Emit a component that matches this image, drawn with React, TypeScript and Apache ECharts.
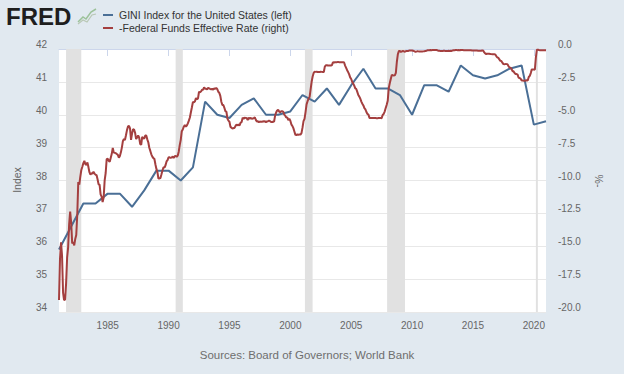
import React, { useEffect, useRef } from "react";
import * as echarts from "echarts";

// GINI Index for the United States (annual, Jan 1 of each year)
const giniYears = [
  1981, 1982, 1983, 1984, 1985, 1986, 1987, 1988, 1989, 1990,
  1991, 1992, 1993, 1994, 1995, 1996, 1997, 1998, 1999, 2000,
  2001, 2002, 2003, 2004, 2005, 2006, 2007, 2008, 2009, 2010,
  2011, 2012, 2013, 2014, 2015, 2016, 2017, 2018, 2019, 2020, 2021,
];
const giniValues = [
  35.9, 36.6, 37.3, 37.3, 37.6, 37.6, 37.2, 37.7, 38.3, 38.3,
  38.0, 38.4, 40.4, 40.0, 39.9, 40.3, 40.5, 40.0, 40.0, 40.1,
  40.6, 40.4, 40.8, 40.3, 40.9, 41.4, 40.8, 40.8, 40.6, 40.0,
  40.9, 40.9, 40.7, 41.5, 41.2, 41.1, 41.2, 41.4, 41.5, 39.7, 39.8,
];

// Federal Funds Effective Rate, monthly, starting January of the first year (percent)
const fedFundsStartYear = 1981;
const fedFunds1980s = [
  19.08, 15.93, 14.7, 15.72, 18.52, 19.1, 19.04, 17.82, 15.87, 15.08, 13.31, 12.37,
  13.22, 14.78, 14.68, 14.94, 14.45, 14.15, 12.59, 10.12, 10.31, 9.71, 9.2, 8.95,
  8.68, 8.51, 8.77, 8.8, 8.63, 8.98, 9.37, 9.56, 9.45, 9.48, 9.34, 9.47,
  9.56, 9.59, 9.91, 10.29, 10.32, 11.06, 11.23, 11.64, 11.3, 9.99, 9.43, 8.38,
  8.35, 8.5, 8.58, 8.27, 7.97, 7.53, 7.88, 7.9, 7.92, 7.99, 8.05, 8.27,
  8.14, 7.86, 7.48, 6.99, 6.85, 6.92, 6.56, 6.17, 5.89, 5.85, 6.04, 6.91,
  6.43, 6.1, 6.13, 6.37, 6.85, 6.73, 6.58, 6.73, 7.22, 7.29, 6.69, 6.77,
  6.83, 6.58, 6.58, 6.87, 7.09, 7.51, 7.75, 8.01, 8.19, 8.3, 8.35, 8.76,
  9.12, 9.36, 9.85, 9.84, 9.81, 9.53, 9.24, 8.99, 9.02, 8.84, 8.55, 8.45,
];
const fedFunds1990s = [
  8.23, 8.24, 8.28, 8.26, 8.18, 8.29, 8.15, 8.13, 8.2, 8.11, 7.81, 7.31,
  6.91, 6.25, 6.12, 5.91, 5.78, 5.9, 5.82, 5.66, 5.45, 5.21, 4.81, 4.43,
  4.03, 4.06, 3.98, 3.73, 3.82, 3.76, 3.25, 3.3, 3.22, 3.1, 3.09, 2.92,
  3.02, 3.03, 3.07, 2.96, 3.0, 3.04, 3.06, 3.03, 3.09, 2.99, 3.02, 2.96,
  3.05, 3.25, 3.34, 3.56, 4.01, 4.25, 4.26, 4.47, 4.73, 4.76, 5.29, 5.45,
  5.53, 5.92, 5.98, 6.05, 6.01, 6.0, 5.85, 5.74, 5.8, 5.76, 5.8, 5.6,
  5.56, 5.22, 5.31, 5.22, 5.24, 5.27, 5.4, 5.22, 5.3, 5.24, 5.31, 5.29,
  5.25, 5.19, 5.39, 5.51, 5.5, 5.56, 5.52, 5.54, 5.54, 5.5, 5.52, 5.5,
  5.56, 5.51, 5.49, 5.45, 5.49, 5.56, 5.54, 5.55, 5.51, 5.07, 4.83, 4.68,
  4.63, 4.76, 4.81, 4.74, 4.74, 4.76, 4.99, 5.07, 5.22, 5.2, 5.42, 5.3,
];
const fedFunds2000s = [
  5.45, 5.73, 5.85, 6.02, 6.27, 6.53, 6.54, 6.5, 6.52, 6.51, 6.51, 6.4,
  5.98, 5.49, 5.31, 4.8, 4.21, 3.97, 3.77, 3.65, 3.07, 2.49, 2.09, 1.82,
  1.73, 1.74, 1.73, 1.75, 1.75, 1.75, 1.73, 1.74, 1.75, 1.75, 1.34, 1.24,
  1.24, 1.26, 1.25, 1.26, 1.26, 1.22, 1.01, 1.03, 1.01, 1.01, 1.0, 0.98,
  1.0, 1.01, 1.0, 1.0, 1.0, 1.03, 1.26, 1.43, 1.61, 1.76, 1.93, 2.16,
  2.28, 2.5, 2.63, 2.79, 3.0, 3.04, 3.26, 3.5, 3.62, 3.78, 4.0, 4.16,
  4.29, 4.49, 4.59, 4.79, 4.94, 4.99, 5.24, 5.25, 5.25, 5.25, 5.25, 5.24,
  5.25, 5.26, 5.26, 5.25, 5.25, 5.25, 5.26, 5.02, 4.94, 4.76, 4.49, 4.24,
  3.94, 2.98, 2.61, 2.28, 1.98, 2.0, 2.01, 2.0, 1.81, 0.97, 0.39, 0.16,
  0.15, 0.22, 0.18, 0.15, 0.18, 0.21, 0.16, 0.16, 0.15, 0.12, 0.12, 0.12,
];
const fedFunds2010s = [
  0.11, 0.13, 0.16, 0.2, 0.2, 0.18, 0.18, 0.19, 0.19, 0.19, 0.19, 0.18,
  0.17, 0.16, 0.14, 0.1, 0.09, 0.09, 0.07, 0.1, 0.08, 0.07, 0.08, 0.07,
  0.08, 0.1, 0.13, 0.14, 0.16, 0.16, 0.16, 0.13, 0.14, 0.16, 0.16, 0.16,
  0.14, 0.15, 0.14, 0.15, 0.11, 0.09, 0.09, 0.08, 0.08, 0.09, 0.08, 0.09,
  0.07, 0.07, 0.08, 0.09, 0.09, 0.1, 0.09, 0.09, 0.09, 0.09, 0.09, 0.12,
  0.11, 0.11, 0.11, 0.12, 0.12, 0.13, 0.13, 0.14, 0.14, 0.12, 0.12, 0.24,
  0.34, 0.38, 0.36, 0.37, 0.37, 0.38, 0.39, 0.4, 0.4, 0.4, 0.41, 0.54,
  0.65, 0.66, 0.79, 0.9, 0.91, 1.04, 1.15, 1.16, 1.15, 1.15, 1.16, 1.3,
  1.41, 1.42, 1.51, 1.69, 1.7, 1.82, 1.91, 1.91, 1.95, 2.19, 2.2, 2.27,
  2.4, 2.4, 2.41, 2.42, 2.39, 2.38, 2.4, 2.13, 2.04, 1.83, 1.55, 1.55,
];
const fedFunds2020s = [
  1.55, 1.58, 0.65, 0.05, 0.05, 0.08, 0.09, 0.1, 0.09, 0.09, 0.09, 0.09,
  0.09,
];

// Recession shading (decimal years)
const recessionStarts = [1981.58, 1990.58, 2001.2, 2007.95, 2020.17];
const recessionEnds = [1982.83, 1991.17, 2001.83, 2009.42, 2020.33];

const xTickYears = [1985, 1990, 1995, 2000, 2005, 2010, 2015, 2020];

const legendLabels = [
  "GINI Index for the United States (left)",
  "-Federal Funds Effective Rate (right)",
];
const sourceText = "Sources: Board of Governors; World Bank";

const FONT = "'Liberation Sans', Arial, Helvetica, sans-serif";
const BLUE = "#4a6f96";
const RED = "#a43f3f";
const LABEL = "#666666";

export default function App() {
  const ref = useRef<HTMLDivElement>(null);

  useEffect(() => {
    if (!ref.current) return;
    const chart = echarts.init(ref.current, undefined, { renderer: "svg" });

    const fedAll = [
      ...fedFunds1980s,
      ...fedFunds1990s,
      ...fedFunds2000s,
      ...fedFunds2010s,
      ...fedFunds2020s,
    ];
    const redData = fedAll.map((v, i) => [fedFundsStartYear + i / 12, -v]);
    const blueData = giniYears.map((y, i) => [y, giniValues[i]]);

    const yLabelBase = {
      color: LABEL,
      fontSize: 10,
      fontFamily: FONT,
      margin: 12,
      verticalAlign: "bottom",
      lineHeight: 9,
    };

    const option: any = {
      animation: false,
      backgroundColor: "#e1e9f0",
      textStyle: { fontFamily: FONT },
      grid: {
        left: 59,
        right: 78,
        top: 49,
        bottom: 62,
        show: true,
        backgroundColor: "#ffffff",
        borderWidth: 0,
      },
      xAxis: {
        type: "value",
        min: 1981,
        max: 2021,
        axisLine: { show: true, lineStyle: { color: "#ccd6eb", width: 1 } },
        axisTick: {
          show: true,
          customValues: xTickYears,
          length: 7,
          lineStyle: { color: "#ccd6eb" },
        },
        axisLabel: {
          customValues: xTickYears,
          color: LABEL,
          fontSize: 10,
          fontFamily: FONT,
          margin: 8,
          formatter: (v: number) => String(Math.round(v)),
        },
        splitLine: { show: false },
      },
      yAxis: [
        {
          type: "value",
          min: 34,
          max: 42,
          interval: 1,
          axisLine: { show: false },
          axisTick: { show: false },
          axisLabel: { ...yLabelBase },
          splitLine: { show: true, lineStyle: { color: "#e8e8e8", width: 1 } },
        },
        {
          type: "value",
          min: -20,
          max: 0,
          interval: 2.5,
          position: "right",
          axisLine: { show: false },
          axisTick: { show: false },
          axisLabel: {
            ...yLabelBase,
            formatter: (v: number) => (Math.abs(v) < 1e-9 ? "0.0" : v.toFixed(1)),
          },
          splitLine: { show: false },
        },
      ],
      series: [
        {
          type: "line",
          name: legendLabels[0],
          yAxisIndex: 0,
          data: blueData,
          symbol: "none",
          lineStyle: { color: BLUE, width: 2 },
          z: 3,
          markArea: {
            silent: true,
            itemStyle: { color: "#e1e1e1" },
            data: recessionStarts.map((s, i) => [
              { xAxis: s },
              { xAxis: recessionEnds[i] },
            ]),
          },
        },
        {
          type: "line",
          name: legendLabels[1],
          yAxisIndex: 1,
          data: redData,
          symbol: "none",
          lineStyle: { color: RED, width: 2 },
          z: 4,
        },
      ],
      graphic: [
        {
          type: "text",
          left: 6,
          top: 4,
          style: {
            text: "FRED",
            fontSize: 24,
            fontWeight: 900,
            fontFamily: FONT,
            fill: "#1e1e1e",
          },
        },
        {
          type: "polyline",
          shape: { points: [[78, 22], [83, 17], [86, 19], [91, 12], [96, 9]] },
          style: { stroke: "#9cc29a", lineWidth: 1.5, fill: "none" },
        },
        {
          type: "polyline",
          shape: { points: [[78, 24], [83, 20], [87, 22], [92, 15], [96, 14]] },
          style: { stroke: "#b8c7b4", lineWidth: 1.2, fill: "none" },
        },
        {
          type: "line",
          shape: { x1: 103, y1: 15, x2: 113, y2: 15 },
          style: { stroke: BLUE, lineWidth: 2 },
        },
        {
          type: "line",
          shape: { x1: 103, y1: 28, x2: 113, y2: 28 },
          style: { stroke: RED, lineWidth: 2 },
        },
        {
          type: "text",
          x: 119,
          y: 15,
          style: {
            text: legendLabels[0],
            fontSize: 10.5,
            fontFamily: FONT,
            fill: "#333333",
            verticalAlign: "middle",
          },
        },
        {
          type: "text",
          x: 119,
          y: 28,
          style: {
            text: legendLabels[1],
            fontSize: 10.5,
            fontFamily: FONT,
            fill: "#333333",
            verticalAlign: "middle",
          },
        },
        {
          type: "text",
          x: 17,
          y: 180,
          rotation: Math.PI / 2,
          style: {
            text: "Index",
            fontSize: 10.5,
            fontFamily: FONT,
            fill: LABEL,
            align: "center",
            verticalAlign: "middle",
          },
        },
        {
          type: "text",
          x: 599,
          y: 181,
          rotation: -Math.PI / 2,
          style: {
            text: "%-",
            fontSize: 10.5,
            fontFamily: FONT,
            fill: LABEL,
            align: "center",
            verticalAlign: "middle",
          },
        },
        {
          type: "text",
          x: 307,
          y: 355,
          style: {
            text: sourceText,
            fontSize: 11.5,
            fontFamily: FONT,
            fill: "#6e6e6e",
            align: "center",
            verticalAlign: "middle",
          },
        },
      ],
    };

    chart.setOption(option);
    return () => chart.dispose();
  }, []);

  return (
    <div
      ref={ref}
      style={{ position: "absolute", left: 0, top: 0, width: 624, height: 374 }}
    />
  );
}
